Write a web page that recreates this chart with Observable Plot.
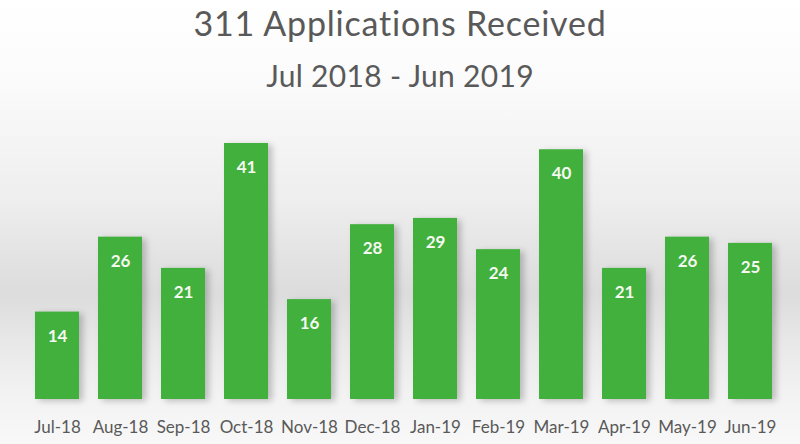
<!DOCTYPE html>
<html>
<head>
<meta charset="utf-8">
<script src="https://cdn.jsdelivr.net/npm/d3@7"></script>
<script src="https://cdn.jsdelivr.net/npm/@observablehq/plot@0.6"></script>
<style>
  html, body { margin: 0; padding: 0; }
  #wrap {
    position: relative; width: 800px; height: 444px; overflow: hidden;
    background: linear-gradient(to bottom, #ffffff 0%, #fbfbfb 18%, #eeeeee 45%, #dcdcdc 66%, #e9e9e9 78%, #f3f3f3 90%, #f8f8f8 100%);
    font-family: Lato, "Open Sans", sans-serif;
  }
  .title { position: absolute; left: 0; width: 800px; text-align: center; color: #595959; line-height: 1.2; white-space: nowrap; }
  #t1 { top: 3px; font-size: 34px; letter-spacing: 0.8px; }
  #t2 { top: 57px; font-size: 30px; letter-spacing: 0.3px; }
  #chart { position: absolute; left: 0; top: 0; }
  #chart svg { background: transparent; }
  .bars rect { filter: drop-shadow(4px 2px 3px rgba(0,0,0,0.22)); }
</style>
</head>
<body>
<div id="wrap">
  <div class="title" id="t1">311 Applications Received</div>
  <div class="title" id="t2">Jul 2018 - Jun 2019</div>
  <div id="chart"></div>
</div>
<script>
const months = ["Jul-18","Aug-18","Sep-18","Oct-18","Nov-18","Dec-18","Jan-19","Feb-19","Mar-19","Apr-19","May-19","Jun-19"];
const counts = [14, 26, 21, 41, 16, 28, 29, 24, 40, 21, 26, 25];

const data = months.map((m, i) => ({month: m, value: counts[i]}));

const chart = Plot.plot({
  width: 800,
  height: 444,
  marginTop: 143,
  marginBottom: 45,
  marginLeft: 15,
  marginRight: 8,
  style: {background: "transparent", fontFamily: "Lato, 'Open Sans', sans-serif"},
  x: {domain: months, padding: 0.3, label: null},
  y: {domain: [0, 41], axis: null},
  marks: [
    Plot.barY(data, {x: "month", y: "value", fill: "#41b03c", className: "bars"}),
    Plot.text(data, {x: "month", y: "value", text: d => String(d.value), dy: 24, fill: "#f4f8f0", fontWeight: "bold", fontSize: 17}),
    Plot.axisX({tickSize: 0, tickPadding: 21, fontSize: 17, color: "#595959", label: null})
  ]
});
document.getElementById("chart").appendChild(chart);
</script>
</body>
</html>
